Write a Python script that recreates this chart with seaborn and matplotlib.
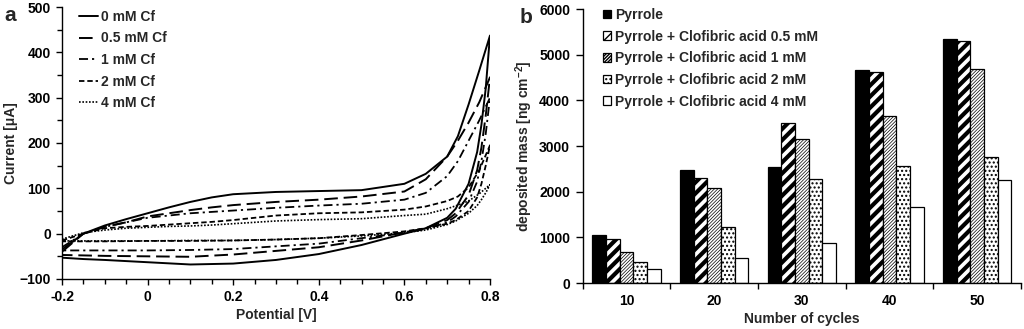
import numpy as np
import pandas as pd
import matplotlib
matplotlib.use("Agg")
import matplotlib.pyplot as plt
from matplotlib.ticker import MultipleLocator, FixedLocator
import seaborn as sns

# ---------------- data: panel a (cyclic voltammograms) ----------------
labels_cv = ["0 mM Cf", "0.5 mM Cf", "1 mM Cf", "2 mM Cf", "4 mM Cf"]
pot_fwd = [-0.2, -0.15, -0.1, -0.05, 0.0, 0.05, 0.1, 0.15, 0.2, 0.3, 0.4, 0.5,
           0.6, 0.65, 0.7, 0.725, 0.75, 0.775, 0.8]
pot_rev = [0.8, 0.79, 0.78, 0.77, 0.75, 0.72, 0.7, 0.65, 0.6, 0.5, 0.4, 0.3,
           0.2, 0.1, 0.0, -0.1, -0.15, -0.2]

cur_fwd_0 = [-35, 0, 18, 32, 45, 58, 70, 80, 87, 92, 94, 96, 110, 132, 170, 215, 285, 360, 437]
cur_rev_0 = [437, 320, 240, 180, 110, 55, 35, 12, 0, -25, -45, -58, -66, -68, -63, -58, -56, -53]
cur_fwd_05 = [-40, 0, 15, 25, 38, 45, 52, 58, 63, 70, 75, 82, 93, 120, 170, 205, 245, 290, 345]
cur_rev_05 = [345, 260, 190, 140, 85, 45, 30, 12, 3, -15, -30, -38, -46, -51, -50, -49, -48, -47]
cur_fwd_1 = [-30, 0, 15, 25, 35, 40, 45, 48, 51, 57, 62, 66, 75, 90, 127, 160, 205, 250, 300]
cur_rev_1 = [300, 220, 160, 115, 70, 38, 25, 10, 2, -10, -22, -28, -34, -36, -37, -37, -37, -37]
cur_fwd_2 = [-15, 0, 12, 15, 17, 20, 23, 26, 30, 40, 45, 47, 53, 60, 72, 82, 102, 140, 195]
cur_rev_2 = [195, 150, 110, 80, 50, 30, 22, 12, 5, -3, -10, -13, -15, -16, -16, -17, -17, -17]
cur_fwd_4 = [-12, 2, 8, 12, 14, 16, 17, 19, 22, 28, 31, 33, 40, 43, 55, 63, 72, 88, 108]
cur_rev_4 = [108, 90, 75, 62, 45, 28, 20, 8, 2, -5, -10, -13, -15, -15, -16, -16, -16, -16]

# ---------------- data: panel b (deposited mass) ----------------
cycles = ["10", "20", "30", "40", "50"]
samples = ["Pyrrole",
           "Pyrrole + Clofibric acid 0.5 mM",
           "Pyrrole + Clofibric acid 1 mM",
           "Pyrrole + Clofibric acid 2 mM",
           "Pyrrole + Clofibric acid 4 mM"]
mass_pyrrole = [1050, 2470, 2550, 4660, 5350]
mass_cf05 = [960, 2300, 3510, 4610, 5310]
mass_cf1 = [680, 2090, 3160, 3650, 4690]
mass_cf2 = [470, 1220, 2280, 2560, 2770]
mass_cf4 = [300, 540, 880, 1670, 2260]

# ---------------- style ----------------
sns.set_style("ticks")
plt.rcParams["font.family"] = ["Liberation Sans", "DejaVu Sans"]
plt.rcParams["font.weight"] = "bold"
plt.rcParams["axes.labelweight"] = "bold"
plt.rcParams["mathtext.fontset"] = "custom"
plt.rcParams["mathtext.rm"] = "Liberation Sans:bold"
plt.rcParams["mathtext.bf"] = "Liberation Sans:bold"
plt.rcParams["mathtext.default"] = "rm"
plt.rcParams["axes.edgecolor"] = "black"
plt.rcParams["axes.linewidth"] = 1.0
plt.rcParams["xtick.color"] = "black"
plt.rcParams["ytick.color"] = "black"

FS = 10

fig = plt.figure(figsize=(10.24, 3.29), dpi=100)
axa = fig.add_axes([0.0605, 0.152, 0.418, 0.8267])
axb = fig.add_axes([0.569, 0.1398, 0.428, 0.8328])

# ---------------- panel a ----------------
fwd = [cur_fwd_0, cur_fwd_05, cur_fwd_1, cur_fwd_2, cur_fwd_4]
rev = [cur_rev_0, cur_rev_05, cur_rev_1, cur_rev_2, cur_rev_4]
styles = ["-", (0, (7, 3)), (0, (5, 2.2, 1.2, 2.2)), (0, (3, 1.6)), (0, (1, 1))]
lws = [1.4, 1.4, 1.3, 1.3, 1.2]
for lab, f, r, ls, lw in zip(labels_cv, fwd, rev, styles, lws):
    v = list(pot_fwd) + list(pot_rev) + [pot_fwd[0]]
    c = list(f) + list(r) + [f[0]]
    sns.lineplot(x=v, y=c, sort=False, estimator=None, color="black",
                 linestyle=ls, lw=lw, label=lab, ax=axa)

axa.set_xlim(-0.2, 0.8)
axa.set_ylim(-100, 500)
axa.xaxis.set_minor_locator(MultipleLocator(0.05))
axa.yaxis.set_major_locator(MultipleLocator(100))
axa.yaxis.set_minor_locator(MultipleLocator(50))
xt = [-0.2, 0, 0.2, 0.4, 0.6, 0.8]
axa.set_xticks(xt)
axa.set_xticklabels(["-0.2", "0", "0.2", "0.4", "0.6", "0.8"])
axa.tick_params(which="major", length=4, width=1, labelsize=FS, pad=4)
axa.tick_params(which="minor", length=3.5, width=1)
axa.set_xlabel("Potential [V]", fontsize=FS, labelpad=3)
axa.set_ylabel("Current [μA]", fontsize=FS, labelpad=1)
sns.despine(ax=axa)
axa.legend(loc="upper left", bbox_to_anchor=(0.033, 1.0), frameon=False,
           handlelength=1.35, handletextpad=0.25,
           labelspacing=0.55, borderaxespad=0, borderpad=0.2,
           prop={"weight": "bold", "size": FS})

# ---------------- panel b ----------------
df = pd.DataFrame({
    "cycles": np.repeat(cycles, 5),
    "sample": samples * 5,
    "mass": [m for group in zip(mass_pyrrole, mass_cf05, mass_cf1, mass_cf2, mass_cf4) for m in group],
})
palette = ["black", "white", "white", "white", "white"]
sns.barplot(data=df, x="cycles", y="mass", hue="sample", order=cycles,
            hue_order=samples, palette=palette, edgecolor="black",
            linewidth=0.9, width=0.78, saturation=1, ax=axb, legend=False)
hatches = [None, "///", "//////////", "....", None]
hatch_lw = [1, 3.0, 0.5, 1, 1]
for cont, h, hl in zip(axb.containers, hatches, hatch_lw):
    for p in cont.patches:
        if h:
            p.set_hatch(h)
            if hasattr(p, "set_hatch_linewidth"):
                p.set_hatch_linewidth(hl)

axb.set_xlim(-0.5, 4.5)
axb.set_ylim(0, 6000)
axb.yaxis.set_major_locator(MultipleLocator(1000))
axb.xaxis.set_minor_locator(FixedLocator([-0.5, 0.5, 1.5, 2.5, 3.5, 4.5]))
axb.tick_params(axis="x", which="major", length=0, labelsize=FS, pad=8)
axb.tick_params(axis="x", which="minor", length=4, width=1)
axb.tick_params(axis="y", which="major", length=5, width=1, labelsize=FS, pad=4)
axb.set_xlabel("Number of cycles", fontsize=FS, labelpad=3)
axb.set_ylabel("deposited mass [ng cm$^{-2}$]", fontsize=FS, labelpad=3)
sns.despine(ax=axb)
axb.legend(axb.containers, samples, loc="upper left", bbox_to_anchor=(0.04, 1.014),
           frameon=False, handlelength=0.6, handleheight=0.6, handletextpad=0.3,
           labelspacing=0.55, borderaxespad=0, borderpad=0.2,
           prop={"weight": "bold", "size": FS})

fig.text(0.004, 0.953, "a", fontsize=15, weight="bold", va="center", ha="left")
fig.text(0.507, 0.948, "b", fontsize=15, weight="bold", va="center", ha="left")

fig.savefig("out.png", dpi=100)
